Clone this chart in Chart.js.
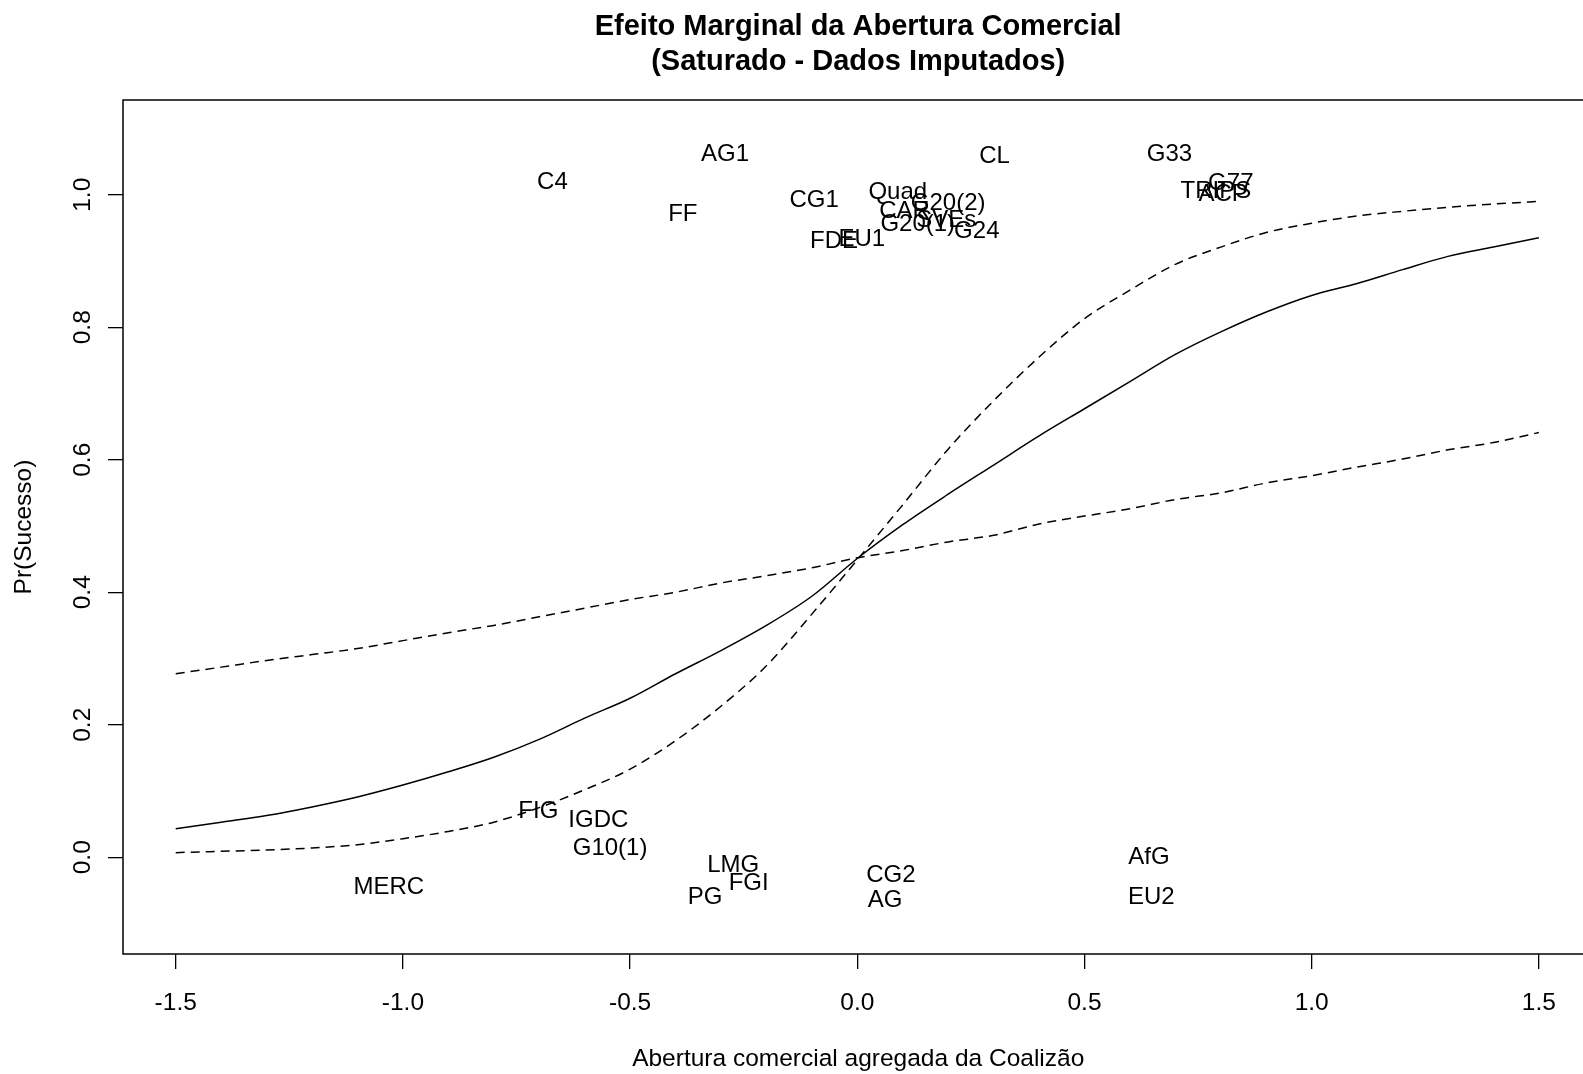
<!DOCTYPE html>
<html lang="pt-BR">
<head>
<meta charset="UTF-8">
<title>Efeito Marginal da Abertura Comercial</title>
<script src="https://cdn.jsdelivr.net/npm/chart.js@4.4.1/dist/chart.umd.min.js"></script>
<style>
    html, body { margin: 0; padding: 0; background: #fff; overflow: hidden; }
</style>
</head>
<body>
<canvas id="myChartEfeito" width="1610" height="1074"></canvas>
<script>
// abertura comercial (eixo x) e probabilidades simuladas
const abertura = [-1.5, -1.4, -1.3, -1.2, -1.1, -1.0, -0.9, -0.8, -0.7, -0.6, -0.5, -0.4, -0.3, -0.2, -0.1,
    0.0, 0.1, 0.2, 0.3, 0.4, 0.5, 0.6, 0.7, 0.8, 0.9, 1.0, 1.1, 1.2, 1.3, 1.4, 1.5];
const probPrevista = [0.043, 0.053, 0.063, 0.076, 0.091, 0.109, 0.129, 0.151, 0.178, 0.210, 0.240, 0.277, 0.312, 0.350, 0.394,
    0.451, 0.502, 0.548, 0.592, 0.636, 0.677, 0.718, 0.759, 0.793, 0.823, 0.848, 0.866, 0.887, 0.907, 0.921, 0.935];
const limite1 = [0.277, 0.287, 0.297, 0.306, 0.315, 0.327, 0.339, 0.350, 0.363, 0.376, 0.389, 0.400, 0.414, 0.425, 0.437,
    0.452, 0.463, 0.476, 0.486, 0.503, 0.515, 0.526, 0.540, 0.550, 0.565, 0.576, 0.589, 0.601, 0.615, 0.626, 0.641];
const limite2 = [0.007, 0.009, 0.011, 0.014, 0.019, 0.028, 0.039, 0.053, 0.075, 0.102, 0.133, 0.176, 0.228, 0.289, 0.367,
    0.449, 0.532, 0.616, 0.689, 0.755, 0.813, 0.856, 0.895, 0.921, 0.943, 0.957, 0.968, 0.975, 0.981, 0.986, 0.990];

const ticksX = [-1.5, -1.0, -0.5, 0.0, 0.5, 1.0, 1.5];
const ticksY = [0.0, 0.2, 0.4, 0.6, 0.8, 1.0];

// nomes das coalizoes e posicao de cada rotulo
const coalizoes = ['AG1', 'C4', 'FF', 'CG1', 'Quad', 'CL', 'G33', 'TRIPS', 'G77', 'ACP', 'G20(2)', 'CAR', 'G20(1)', 'SVEs',
    'G24', 'EU1', 'FDE', 'FIG', 'IGDC', 'G10(1)', 'MERC', 'LMG', 'FGI', 'PG', 'CG2', 'AG', 'AfG', 'EU2'];
const coalizoesX = [-0.291, -0.671, -0.384, -0.095, 0.089, 0.302, 0.687, 0.789, 0.822, 0.805, 0.200, 0.104, 0.133, 0.196,
    0.263, 0.010, -0.051, -0.702, -0.570, -0.544, -1.031, -0.273, -0.239, -0.335, 0.074, 0.061, 0.642, 0.647];
const coalizoesY = [1.061, 1.018, 0.970, 0.992, 1.004, 1.058, 1.061, 1.005, 1.017, 1.000, 0.987, 0.975, 0.956, 0.962,
    0.945, 0.932, 0.929, 0.069, 0.056, 0.013, -0.046, -0.012, -0.040, -0.060, -0.027, -0.065, 0.000, -0.060];

Chart.defaults.font.family = "'Liberation Sans', Arial, sans-serif";
Chart.defaults.color = '#000';

function pontos(valores) {
    return abertura.map((x, i) => ({ x: x, y: valores[i] }));
}

const rotulosCoalizoes = {
    id: 'rotulosCoalizoes',
    afterDatasetsDraw(chart) {
        const ctx = chart.ctx;
        const escalaX = chart.scales.x;
        const escalaY = chart.scales.y;
        ctx.save();
        ctx.font = "24px 'Liberation Sans', Arial, sans-serif";
        ctx.fillStyle = '#000';
        ctx.textAlign = 'center';
        ctx.textBaseline = 'middle';
        coalizoes.forEach((nome, i) => {
            ctx.fillText(nome, escalaX.getPixelForValue(coalizoesX[i]), escalaY.getPixelForValue(coalizoesY[i]));
        });
        ctx.restore();
    }
};

// caixa em volta da area do grafico
const moldura = {
    id: 'moldura',
    afterDraw(chart) {
        const { ctx, chartArea } = chart;
        ctx.save();
        ctx.strokeStyle = '#000';
        ctx.lineWidth = 1.5;
        ctx.strokeRect(chartArea.left, chartArea.top, chartArea.right - chartArea.left, chartArea.bottom - chartArea.top);
        ctx.restore();
    }
};

const gradeEixo = {
    drawOnChartArea: false,
    drawTicks: true,
    tickLength: 15,
    color: '#000',
    lineWidth: 1.3
};

const ctxEfeito = document.getElementById('myChartEfeito');
const dataEfeito = {
    datasets: [{
        label: 'Pr(Sucesso)',
        data: pontos(probPrevista),
        borderColor: '#000',
        borderWidth: 1.5,
        pointRadius: 0,
        cubicInterpolationMode: 'monotone'
    }, {
        label: 'Limite 1',
        data: pontos(limite1),
        borderColor: '#000',
        borderWidth: 1.5,
        borderDash: [9, 6],
        pointRadius: 0,
        cubicInterpolationMode: 'monotone'
    }, {
        label: 'Limite 2',
        data: pontos(limite2),
        borderColor: '#000',
        borderWidth: 1.5,
        borderDash: [9, 6],
        pointRadius: 0,
        cubicInterpolationMode: 'monotone'
    }]
};
const configEfeito = {
    type: 'line',
    data: dataEfeito,
    options: {
        responsive: false,
        animation: false,
        devicePixelRatio: 1,
        layout: {
            padding: { left: 0, right: 16.6, top: 0, bottom: 0 }
        },
        scales: {
            x: {
                type: 'linear',
                min: -1.616,
                max: 1.62,
                afterBuildTicks: escala => { escala.ticks = ticksX.map(v => ({ value: v })); },
                afterFit: escala => { escala.height = 120; },
                grid: gradeEixo,
                border: { display: false },
                ticks: {
                    padding: 20,
                    maxRotation: 0,
                    autoSkip: false,
                    font: { size: 24.5 },
                    callback: v => Number(v).toFixed(1)
                },
                title: {
                    display: true,
                    text: 'Abertura comercial agregada da Coalizão',
                    font: { size: 24.5, lineHeight: 1.2 },
                    padding: { top: 0, bottom: 0 }
                }
            },
            y: {
                type: 'linear',
                min: -0.146,
                max: 1.143,
                afterBuildTicks: escala => { escala.ticks = ticksY.map(v => ({ value: v })); },
                afterFit: escala => { escala.width = 123; },
                grid: gradeEixo,
                border: { display: false },
                ticks: {
                    padding: 8,
                    minRotation: 90,
                    maxRotation: 90,
                    crossAlign: 'center',
                    font: { size: 24.5 },
                    callback: v => Number(v).toFixed(1)
                },
                title: {
                    display: true,
                    text: 'Pr(Sucesso)',
                    font: { size: 24.5, lineHeight: 1.2 },
                    padding: { top: 10, bottom: 0 }
                }
            }
        },
        plugins: {
            legend: { display: false },
            tooltip: { enabled: false },
            title: {
                display: true,
                fullSize: false,
                text: ['Efeito Marginal da Abertura Comercial', '(Saturado - Dados Imputados)'],
                font: { size: 29, weight: 'bold', lineHeight: 1.207 },
                padding: { top: 9.5, bottom: 20.5 }
            }
        }
    },
    plugins: [rotulosCoalizoes, moldura]
};

new Chart(ctxEfeito, configEfeito);
</script>
</body>
</html>
